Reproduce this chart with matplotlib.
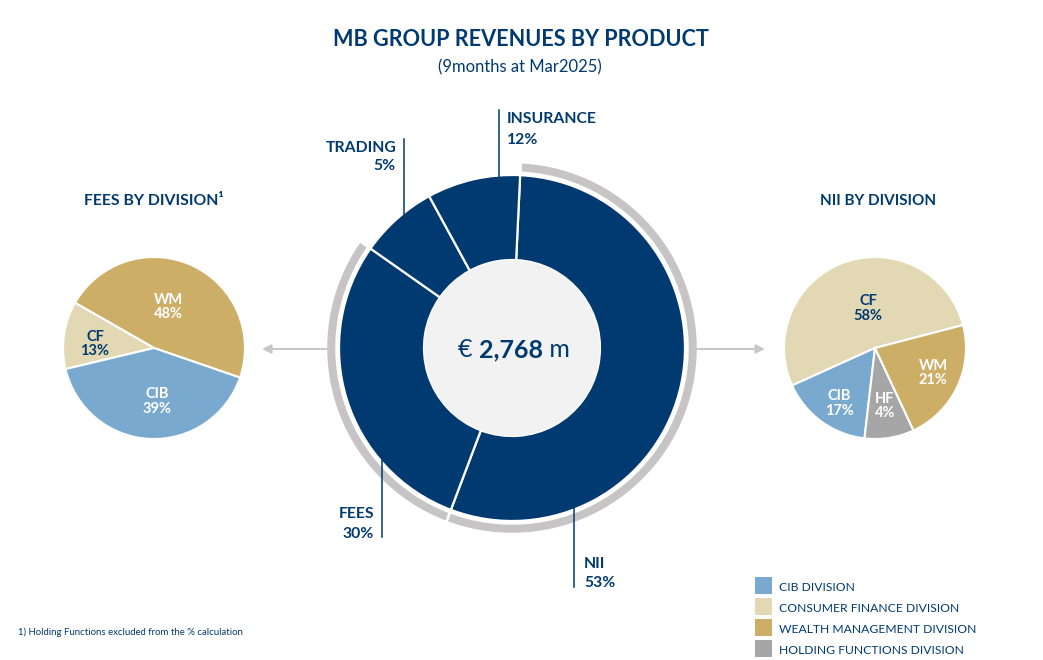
import matplotlib
matplotlib.use("Agg")
import matplotlib.pyplot as plt
from matplotlib.patches import Circle, Rectangle

# ---------------- data ----------------
product_names = ["NII", "FEES", "TRADING", "INSURANCE"]
product_labels = ["53%", "30%", "5%", "12%"]
product_sizes = [55.0, 29.0, 7.3, 8.7]          # drawn shares
total_text = "2,768"

fees_div_names = ["WM", "CF", "CIB"]
fees_div_labels = ["48%", "13%", "39%"]
fees_div_sizes = [47.0, 12.0, 41.0]

nii_div_names = ["CF", "CIB", "HF", "WM"]
nii_div_labels = ["58%", "17%", "4%", "21%"]
nii_div_sizes = [52.7, 16.4, 8.8, 22.1]

legend_names = ["CIB DIVISION", "CONSUMER FINANCE DIVISION",
                "WEALTH MANAGEMENT DIVISION", "HOLDING FUNCTIONS DIVISION"]

# ---------------- style ----------------
NAVY = "#003A70"
GOLD = "#CCAE66"
BEIGE = "#E2D9B4"
BLUE = "#7AA9CF"
HFGREY = "#A6A6A6"
RING = "#C6C4C4"
CENTER = "#F2F2F2"
ARROW = "#C8C8C8"
div_color = {"CIB": BLUE, "CF": BEIGE, "WM": GOLD, "HF": HFGREY}

FONT = ["Lato", "DejaVu Sans"]
plt.rcParams["font.family"] = FONT

W, H = 1043, 660
fig = plt.figure(figsize=(W / 100, H / 100), dpi=100)
ax = fig.add_axes([0, 0, 1, 1])


def Y(y):
    return H - y


# ---------------- central donut ----------------
cx, cy = 512, Y(348)
ax.pie(product_sizes, center=(cx, cy), radius=173, startangle=87.3,
       counterclock=False, colors=[NAVY] * len(product_sizes),
       wedgeprops=dict(width=173 - 88, edgecolor="white", linewidth=1.6))
ax.add_patch(Circle((cx, cy), 88, facecolor=CENTER, edgecolor="none", zorder=3))

# grey outer ring for NII and FEES
ring_sizes = [product_sizes[0], product_sizes[1], sum(product_sizes[2:])]
ax.pie(ring_sizes, center=(cx, cy), radius=186, startangle=87.3,
       counterclock=False, colors=[RING, RING, "none"],
       wedgeprops=dict(width=10.5, edgecolor="white", linewidth=1.8))

# centre total: "€ 2,768 m"
t_total = ax.text(511, Y(357), total_text, ha="center", va="baseline",
                  fontsize=18, fontweight="bold", color=NAVY, zorder=6)
ax.annotate("€ ", xy=(0, 0), xycoords=t_total, ha="right", va="bottom",
            fontsize=18, color=NAVY, zorder=6)
ax.annotate(" m", xy=(1, 0), xycoords=t_total, ha="left", va="bottom",
            fontsize=18, color=NAVY, zorder=6)

# callout lines and labels
lw_call = 1.1
FS_CALL = 11.3
ax.plot([499, 499], [Y(110), Y(177)], color=NAVY, lw=lw_call)
ax.text(507, Y(123), product_names[3], ha="left", va="baseline", fontsize=FS_CALL,
        fontweight="bold", color=NAVY)
ax.text(507, Y(144), product_labels[3], ha="left", va="baseline", fontsize=FS_CALL,
        fontweight="bold", color=NAVY)

ax.plot([404, 404], [Y(139), Y(215)], color=NAVY, lw=lw_call)
ax.text(396, Y(152), product_names[2], ha="right", va="baseline", fontsize=FS_CALL,
        fontweight="bold", color=NAVY)
ax.text(396, Y(170), product_labels[2], ha="right", va="baseline", fontsize=FS_CALL,
        fontweight="bold", color=NAVY)

ax.plot([382, 382], [Y(458), Y(537)], color=NAVY, lw=lw_call)
ax.text(374, Y(518), product_names[1], ha="right", va="baseline", fontsize=FS_CALL,
        fontweight="bold", color=NAVY)
ax.text(374, Y(538), product_labels[1], ha="right", va="baseline", fontsize=FS_CALL,
        fontweight="bold", color=NAVY)

ax.plot([574, 574], [Y(508), Y(587)], color=NAVY, lw=lw_call)
ax.text(584, Y(568), product_names[0], ha="left", va="baseline", fontsize=FS_CALL,
        fontweight="bold", color=NAVY)
ax.text(584, Y(587), product_labels[0], ha="left", va="baseline", fontsize=FS_CALL,
        fontweight="bold", color=NAVY)

# ---------------- left pie: fees by division ----------------
lx, ly = 154, Y(348)
ax.pie(fees_div_sizes, center=(lx, ly), radius=91, startangle=-19,
       counterclock=True, colors=[div_color[n] for n in fees_div_names],
       wedgeprops=dict(edgecolor="white", linewidth=1.5))
left_pos = {"WM": (168, 304, 318, "white"), "CF": (95, 341, 355, NAVY),
            "CIB": (157, 398, 413, "white")}
for n, lab in zip(fees_div_names, fees_div_labels):
    x, y1, y2, c = left_pos[n]
    ax.text(x, Y(y1), n, ha="center", va="baseline", fontsize=10.5,
            fontweight="bold", color=c, zorder=5)
    ax.text(x, Y(y2), lab, ha="center", va="baseline", fontsize=10.5,
            fontweight="bold", color=c, zorder=5)
ax.text(154, Y(205), "FEES BY DIVISION\u00b9", ha="center", va="baseline",
        fontsize=11.3, fontweight="bold", color=NAVY)

# ---------------- right pie: NII by division ----------------
rx, ry = 875, Y(348)
ax.pie(nii_div_sizes, center=(rx, ry), radius=91, startangle=14.6,
       counterclock=True, colors=[div_color[n] for n in nii_div_names],
       wedgeprops=dict(edgecolor="white", linewidth=1.5))
right_pos = {"CF": (868, 305, 320, NAVY), "CIB": (839, 400, 415, "white"),
             "HF": (885, 403, 417, "white"), "WM": (933, 370, 384, "white")}
for n, lab in zip(nii_div_names, nii_div_labels):
    x, y1, y2, c = right_pos[n]
    ax.text(x, Y(y1), n, ha="center", va="baseline", fontsize=10.5,
            fontweight="bold", color=c, zorder=5)
    ax.text(x, Y(y2), lab, ha="center", va="baseline", fontsize=10.5,
            fontweight="bold", color=c, zorder=5)
ax.text(878, Y(205), "NII BY DIVISION", ha="center", va="baseline",
        fontsize=11, fontweight="bold", color=NAVY)

# ---------------- arrows ----------------
ax.annotate("", xy=(262, Y(349)), xytext=(329, Y(349)),
            arrowprops=dict(arrowstyle="-|>", color=ARROW, lw=1.5,
                            mutation_scale=13, shrinkA=0, shrinkB=0))
ax.annotate("", xy=(765, Y(349)), xytext=(697, Y(349)),
            arrowprops=dict(arrowstyle="-|>", color=ARROW, lw=1.5,
                            mutation_scale=13, shrinkA=0, shrinkB=0))

# ---------------- titles ----------------
ax.text(521, Y(46), "MB GROUP REVENUES BY PRODUCT", ha="center", va="baseline",
        fontsize=15.6, fontweight="bold", color=NAVY)
ax.text(520, Y(72), "(9months at Mar2025)", ha="center", va="baseline",
        fontsize=12, color=NAVY)

# ---------------- legend ----------------
leg_colors = [BLUE, BEIGE, GOLD, HFGREY]
for i, (name, col) in enumerate(zip(legend_names, leg_colors)):
    top = 577 + 21 * i
    ax.add_patch(Rectangle((755, Y(top + 17)), 17, 17, facecolor=col,
                           edgecolor="none"))
    ax.text(779, Y(top + 14), name, ha="left", va="baseline", fontsize=8.7,
            color=NAVY)

# ---------------- footnote ----------------
ax.text(18, Y(635), "1) Holding Functions excluded from the % calculation",
        ha="left", va="baseline", fontsize=6.9, color=NAVY)

ax.set_xlim(0, W)
ax.set_ylim(0, H)
ax.set_aspect("equal")
ax.axis("off")
fig.savefig("out.png", dpi=100, facecolor="white")
